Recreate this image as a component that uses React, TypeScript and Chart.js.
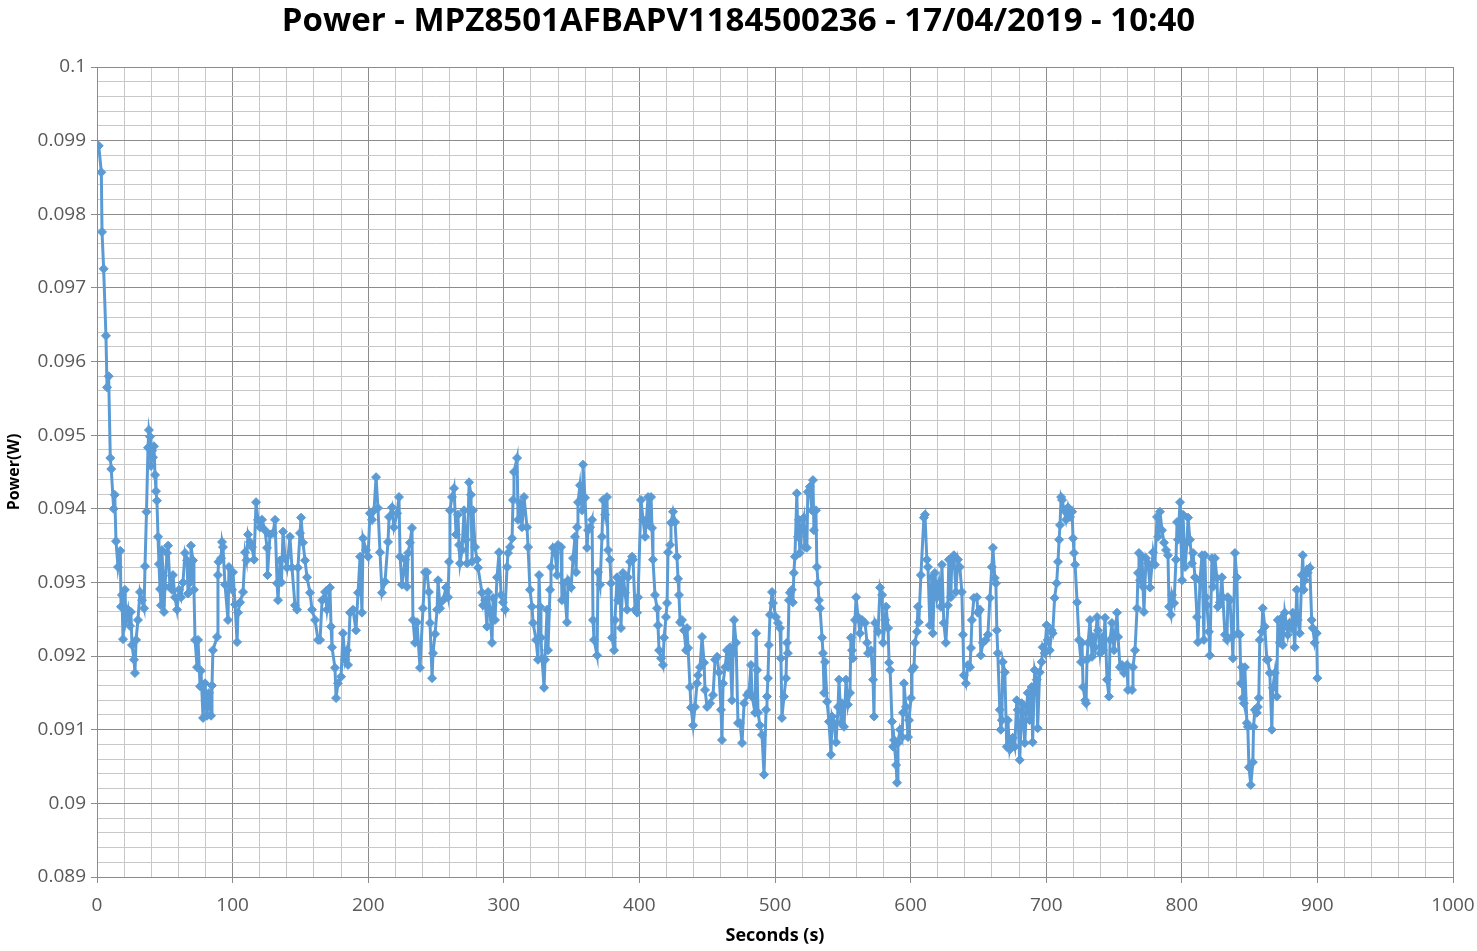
import { useEffect, useRef } from 'react';
import { Chart, registerables } from 'chart.js';

Chart.register(...registerables);

const TITLE = 'Power - MPZ8501AFBAPV1184500236 - 17/04/2019 - 10:40';
const X_AXIS_TITLE = 'Seconds (s)';
const Y_AXIS_TITLE = 'Power(W)';

// Time of each sample, in seconds
const seconds = [
  1.3, 3.2, 3.7, 4.9, 6.6, 7.4, 8.6, 9.8, 10.5, 12.3, 13.1, 14.0, 15.5, 17.2, 17.7, 18.4, 19.2, 20.6, 21.4, 22.9,
  24.3, 25.0, 25.8, 27.3, 28.0, 28.8, 30.2, 31.7, 33.2, 34.7, 35.4, 36.5, 37.6, 38.3, 39.1, 39.8, 40.6, 41.3, 42.0, 42.8,
  43.5, 44.2, 45.0, 45.7, 46.5, 47.2, 47.9, 48.7, 49.4, 50.1, 51.6, 52.4, 53.8, 55.3, 56.0, 57.5, 59.0, 60.5, 62.0, 63.4,
  64.9, 66.4, 67.1, 68.6, 69.3, 70.8, 71.5, 72.3, 73.8, 74.5, 76.0, 76.7, 78.2, 79.7, 81.1, 82.6, 84.1, 84.8, 85.5,
  88.5, 89.2, 89.6, 91.5, 92.2, 92.9, 94.4, 96.6, 97.3, 99.6, 100.3, 101.8, 103.3, 104.0, 105.5, 107.7, 109.2, 110.3, 111.4, 112.8,
  114.3, 115.8, 117.3, 118.7, 120.2, 121.7, 123.9, 125.4, 125.7, 127.6, 129.8, 131.3, 132.8, 133.5, 135.0, 136.0, 137.2, 138.7, 140.1, 142.3,
  143.8, 146.0, 147.5, 148.2, 149.7, 150.5, 151.9, 153.4, 154.9, 157.1, 158.6, 160.8, 163.0,
  164.5, 166.0, 168.2, 169.6, 171.8, 172.6, 173.3, 175.5, 176.3, 177.7, 180.0, 181.4, 182.9, 184.4, 185.1, 186.6, 188.8, 191.0, 192.5, 194.0,
  195.4, 196.2, 198.4, 199.9, 201.3, 202.8, 204.3, 205.8, 207.2, 208.7, 210.2, 212.4, 214.6, 215.4, 217.6, 219.0, 221.3, 222.7, 223.5, 224.9,
  227.2, 228.6, 229.4, 230.8, 232.3, 233.0, 234.5, 236.0, 238.2, 240.4, 241.9,
  243.4, 244.8, 245.6, 247.1, 247.8, 249.3, 250.8, 251.5, 253.0, 255.2, 257.4, 258.9, 259.6, 260.3, 261.8, 263.3, 264.8, 266.2, 267.0, 267.7,
  269.2, 270.7, 272.1, 272.9, 274.4, 275.8, 276.6, 277.3, 278.8, 280.3, 281.0, 283.9, 284.7, 286.2, 287.6, 288.4, 289.8, 291.3, 292.1, 293.5,
  295.0, 296.5, 298.0, 299.4, 300.9, 302.4, 303.1, 304.6, 306.1, 306.8, 307.5, 309.8, 310.5, 312.0, 313.4, 314.9, 317.1, 317.9, 319.3, 320.8,
  321.6, 323.8, 325.2,
  326.0, 326.7, 327.4, 328.2, 329.7, 330.4, 331.9, 332.6, 334.1, 334.8, 336.3, 337.8, 339.3, 340.0, 342.2, 342.9, 344.4, 346.6, 347.4, 349.6,
  351.1, 352.5, 353.3, 354.0, 354.7, 356.2, 357.7, 358.4, 359.9, 361.4, 362.1, 363.6, 365.1, 365.8, 366.5, 368.8, 369.5, 371.0, 372.4, 373.2,
  374.7, 376.1, 376.9, 378.3, 379.1, 379.8, 381.3, 382.0, 383.5, 384.2, 385.7, 386.4, 387.9, 389.4, 390.9, 391.6, 393.1, 394.6, 395.3, 396.8,
  398.3, 399.0, 401.2, 402.7, 404.2, 406.4,
  407.1, 408.6, 409.3, 410.0, 411.5, 413.0, 413.7, 414.5, 416.0, 417.4, 418.2, 419.6, 420.4, 421.1, 422.6, 423.3, 424.8, 426.3, 427.7, 428.5,
  429.2, 430.0, 431.4, 432.9, 434.4, 435.1, 435.9, 437.3, 438.1, 439.6, 441.0, 442.5, 443.2, 444.7, 446.2, 447.7, 448.4, 449.9, 452.1, 454.3,
  455.8, 457.3, 458.7, 460.2, 460.9, 461.7, 463.2, 464.6, 465.4, 466.8, 468.3, 469.1, 469.8, 471.3, 472.7, 474.2, 475.7, 477.2, 479.4, 480.8,
  482.3, 483.1, 485.3,
  486.1, 486.8, 487.5, 488.9, 490.4, 491.9, 493.4, 494.1, 494.8, 495.5, 496.3, 497.8, 498.5, 500.7, 502.2, 503.7, 504.4, 505.1, 506.6, 508.1,
  508.8, 509.5, 510.3, 511.0, 512.5, 513.2, 513.9, 514.7, 516.1, 516.9, 517.6, 518.3, 519.8, 521.3, 522.0, 523.5, 524.2, 525.7, 527.2, 528.0,
  528.7, 530.2, 530.9, 531.7, 532.4, 533.2, 534.7, 535.4, 536.2, 536.9, 538.4, 539.8, 541.3, 542.1, 543.5, 545.0, 546.5, 547.2, 548.7, 549.4,
  550.9, 552.4, 553.8, 555.3, 556.0, 556.8, 557.5, 559.0, 559.8, 561.2, 562.7, 564.2,
  566.4, 567.9, 568.6, 570.8, 572.3, 573.0, 573.8, 576.0, 577.5, 579.0, 579.7, 581.2, 581.9, 583.4, 584.1, 584.9, 586.3, 587.1, 587.8, 589.3,
  590.0, 590.7, 592.2, 593.7, 594.4, 595.1, 596.6, 598.1, 598.8, 600.3, 601.0, 602.5, 603.2, 604.7, 605.4, 606.1, 607.6, 609.8, 610.6, 612.0,
  612.8, 614.2, 615.7, 616.4, 617.9, 619.4, 620.9, 622.3, 623.1, 624.5, 626.0, 627.5, 628.2, 629.7, 630.4, 631.9, 633.4, 634.9, 636.3, 637.8,
  638.6, 639.3, 640.8, 642.3, 643.8, 644.5, 645.2, 646.7, 648.9, 649.6,
  651.1, 651.8, 653.3, 655.5, 657.0, 658.5, 659.9, 660.7, 662.1, 662.9, 663.6, 664.3, 665.8, 666.5, 667.3, 668.0, 669.5, 670.9, 671.7, 673.1,
  674.6, 675.3, 676.8, 678.3, 679.0, 680.5, 682.0, 682.7, 684.2, 685.6, 686.4, 687.8, 689.3, 690.0, 691.5, 693.0, 693.7, 695.2, 696.7, 697.4,
  698.9, 700.3, 701.1, 702.6, 704.0, 704.8, 706.2, 707.7, 708.7, 709.5, 710.2, 711.0, 711.7, 713.2, 714.6, 716.1, 717.6, 719.1, 719.8, 720.5,
  721.3, 722.8, 724.2, 725.7, 726.4, 727.2, 728.7, 729.4, 730.1, 730.9,
  732.3, 733.8, 734.5, 736.0, 737.5, 738.2, 739.7, 741.2, 741.9, 743.4, 744.8, 746.3, 747.1, 748.5, 750.0, 752.2, 753.0, 754.4, 755.9, 757.4,
  759.6, 760.3, 763.3, 764.0, 765.5, 767.0, 767.7, 768.4, 769.2, 770.7, 771.4, 772.1, 773.6, 775.1, 776.6, 778.0, 778.8, 780.2, 781.7, 782.5,
  783.9, 785.4, 786.9, 788.4, 789.8, 790.6, 792.0, 792.8, 794.3, 795.7, 796.5, 797.2, 798.7, 800.2, 800.9, 802.4, 803.8, 804.6, 806.0, 807.5,
  808.3, 809.7, 811.2, 811.9, 813.4, 814.9,
  816.3, 817.0, 817.8, 818.5, 820.0, 820.7, 822.2, 823.0, 824.4, 825.9, 826.6, 828.1, 829.6, 830.3, 831.8, 833.3, 834.0, 835.5, 837.0, 837.7,
  839.2, 840.6, 841.4, 842.8, 843.6, 844.3, 845.0, 845.8, 846.5, 848.0, 848.7, 849.5, 850.9, 852.4, 852.9, 853.9, 855.3, 856.1, 856.8, 857.5,
  859.0, 859.7, 861.2, 862.7, 863.4, 864.9, 866.4, 867.1, 868.6, 870.0, 870.8, 872.3, 873.7, 874.5, 875.9, 877.4, 878.2, 879.6, 881.1, 881.8,
  883.3, 884.8, 885.5, 887.0, 888.5, 889.2, 889.9, 890.7, 892.2, 892.9, 894.4, 895.8, 896.6, 898.0, 899.5, 900.0,
];

// Measured power of each sample, in milliwatts (converted to W for the chart)
const powerMw = [
  98.93, 98.57, 97.76, 97.26, 96.35, 95.65, 95.80, 94.69, 94.54, 94.00, 94.19, 93.56, 93.21, 93.43, 92.67, 92.83, 92.23, 92.90, 92.49, 92.63,
  92.41, 92.60, 92.15, 91.95, 91.77, 92.22, 92.49, 92.87, 92.76, 92.65, 93.22, 93.96, 94.83, 95.07, 94.98, 94.58, 94.79, 94.70, 94.85, 94.46,
  94.24, 94.11, 93.62, 93.25, 92.91, 92.69, 93.44, 93.09, 92.60, 92.94, 93.40, 93.50, 92.94, 92.90, 93.10, 92.80, 92.63, 92.90, 92.80, 93.00,
  93.40, 93.30, 92.85, 93.00, 93.50, 93.30, 92.90, 92.22, 91.85, 92.22, 91.59, 91.80, 91.16, 91.63, 91.19, 91.50, 91.19, 91.60, 92.08,
  92.26, 93.10, 93.28, 93.33, 93.55, 93.48, 92.97, 92.49, 93.21, 92.90, 93.14, 92.70, 92.19, 92.59, 92.73, 92.87, 93.41, 93.30, 93.65, 93.55,
  93.48, 93.31, 94.09, 93.85, 93.75, 93.85, 93.71, 93.47, 93.10, 93.65, 93.67, 93.85, 92.99, 92.76, 93.30, 93.00, 93.69, 93.33, 93.20, 93.62,
  93.20, 92.69, 92.63, 93.20, 93.67, 93.88, 93.54, 93.30, 93.07, 92.86, 92.63, 92.49, 92.22,
  92.22, 92.76, 92.87, 92.63, 92.93, 92.40, 92.12, 91.84, 91.43, 91.63, 91.72, 92.31, 91.95, 92.08, 91.88, 92.59, 92.63, 92.35, 92.86, 93.35,
  92.59, 93.60, 93.44, 93.35, 93.94, 93.85, 93.98, 94.43, 94.01, 93.41, 92.86, 93.01, 93.55, 93.89, 94.02, 93.75, 93.94, 94.16, 93.35, 92.97,
  93.31, 92.94, 93.40, 93.54, 93.74, 92.49, 92.18, 92.46, 91.84, 92.65, 93.14,
  93.14, 92.87, 92.45, 91.70, 92.04, 92.30, 92.63, 93.03, 92.65, 92.76, 92.93, 92.80, 93.28, 93.98, 94.16, 94.28, 93.65, 93.92, 93.51, 93.26,
  93.44, 93.98, 93.58, 93.26, 94.36, 94.19, 93.28, 93.98, 93.48, 93.31, 93.20, 92.86, 92.69, 92.76, 92.40, 92.87, 92.63, 92.18, 92.79, 92.49,
  93.07, 93.41, 92.83, 92.73, 92.63, 93.21, 93.40, 93.48, 93.60, 94.12, 94.50, 94.69, 93.85, 94.08, 93.75, 94.16, 93.75, 93.48, 92.90, 92.67,
  92.45, 92.22, 91.95,
  93.10, 92.67, 92.25, 91.97, 91.57, 91.95, 92.63, 92.08, 92.90, 93.21, 93.47, 93.40, 93.10, 93.51, 93.48, 92.76, 92.99, 92.46, 93.03, 92.93,
  93.33, 93.62, 93.14, 93.75, 94.09, 94.32, 93.98, 94.60, 94.15, 93.47, 93.71, 93.75, 93.85, 92.49, 92.22, 92.01, 93.14, 92.97, 93.62, 94.12,
  93.92, 94.16, 93.44, 93.31, 92.99, 92.25, 92.08, 92.49, 93.07, 92.76, 93.03, 92.38, 93.13, 92.86, 92.63, 93.07, 93.28, 93.35, 93.31, 92.63,
  92.59, 92.80, 94.12, 93.85, 93.62, 94.16,
  93.78, 94.16, 93.74, 93.31, 92.83, 92.65, 92.42, 92.08, 91.97, 91.88, 92.25, 92.53, 92.72, 93.41, 93.51, 93.81, 93.96, 93.82, 93.35, 93.05,
  92.83, 92.46, 92.49, 92.35, 92.08, 92.38, 92.11, 91.58, 91.30, 91.06, 91.31, 91.63, 91.74, 91.85, 92.26, 91.91, 91.54, 91.31, 91.36, 91.47,
  91.95, 91.99, 91.78, 91.27, 90.86, 91.63, 91.85, 92.08, 91.85, 92.12, 91.40, 92.04, 92.49, 92.18, 91.09, 91.09, 90.82, 91.36, 91.47, 91.51,
  91.88, 91.45, 91.23,
  92.31, 91.81, 91.23, 91.06, 90.93, 90.39, 91.27, 91.45, 91.70, 92.15, 92.56, 92.87, 92.72, 92.53, 92.45, 92.38, 91.97, 91.16, 91.45, 91.70,
  92.18, 92.04, 92.76, 92.86, 92.90, 92.73, 93.13, 93.35, 94.21, 93.62, 93.85, 93.40, 93.75, 93.88, 93.48, 93.47, 94.23, 94.30, 93.98, 94.39,
  93.71, 93.98, 93.21, 92.99, 92.76, 92.65, 92.25, 92.04, 91.50, 91.92, 91.38, 91.11, 90.66, 91.18, 91.09, 90.83, 91.31, 91.68, 91.09, 91.36,
  91.04, 91.68, 91.34, 91.50, 92.25, 92.08, 91.97, 92.49, 92.80, 92.53, 92.31, 92.49,
  92.45, 92.18, 92.04, 92.08, 91.68, 91.18, 92.45, 92.33, 92.93, 92.83, 92.18, 92.49, 92.67, 92.38, 91.91, 91.81, 91.11, 90.77, 90.86, 90.52,
  90.28, 90.82, 91.00, 90.90, 91.23, 91.63, 91.31, 90.90, 91.13, 91.43, 91.81, 91.85, 92.18, 92.33, 92.67, 92.46, 93.10, 93.88, 93.92, 93.31,
  93.21, 92.42, 93.07, 92.31, 93.13, 92.80, 92.99, 92.67, 93.24, 92.45, 92.18, 92.69, 93.31, 92.80, 93.33, 93.37, 92.87, 93.31, 93.21, 92.87,
  92.29, 91.74, 91.63, 91.88, 91.85, 92.11, 92.49, 92.79, 92.80, 92.59,
  92.63, 92.01, 92.18, 92.22, 92.29, 92.79, 93.21, 93.47, 93.06, 92.99, 92.35, 92.04, 91.27, 91.00, 91.13, 91.92, 91.78, 90.77, 91.13, 90.73,
  90.86, 90.89, 90.77, 91.40, 91.27, 90.59, 91.36, 91.23, 90.82, 91.31, 91.50, 91.13, 91.58, 90.83, 91.81, 91.68, 91.02, 91.78, 91.92, 92.12,
  92.04, 92.42, 92.22, 92.08, 92.35, 92.31, 92.79, 92.99, 93.28, 93.58, 93.78, 94.16, 94.12, 93.98, 93.85, 94.02, 93.89, 93.96, 93.60, 93.40,
  93.24, 92.73, 92.22, 91.92, 92.18, 91.58, 91.40, 91.36, 91.95, 92.18,
  92.49, 91.99, 92.26, 92.12, 92.53, 92.35, 92.04, 92.26, 92.08, 92.52, 91.68, 91.45, 92.22, 92.45, 92.08, 92.59, 92.26, 91.85, 91.88, 91.77,
  91.88, 91.54, 91.54, 91.85, 92.08, 92.65, 93.13, 93.40, 93.03, 93.35, 92.94, 92.60, 93.33, 93.26, 92.93, 93.24, 93.41, 93.24, 93.89, 93.62,
  93.96, 93.71, 93.54, 93.44, 93.37, 92.67, 92.56, 92.83, 92.72, 93.31, 93.82, 93.58, 94.09, 93.03, 93.92, 93.21, 93.54, 93.88, 93.58, 93.26,
  93.40, 93.07, 92.53, 92.19, 93.03, 93.37,
  92.22, 93.37, 92.80, 92.69, 92.33, 92.01, 93.33, 92.94, 93.33, 93.06, 92.67, 92.73, 93.07, 92.80, 92.29, 92.22, 92.80, 92.76, 92.26, 91.97,
  93.40, 93.07, 92.31, 92.29, 91.63, 91.85, 91.43, 91.36, 91.85, 91.09, 91.04, 90.49, 90.25, 90.56, 91.04, 91.27, 91.23, 91.31, 91.43, 92.22,
  92.33, 92.65, 92.40, 91.95, 91.95, 91.77, 91.00, 91.57, 91.77, 91.45, 92.49, 92.18, 92.52, 92.15, 92.59, 92.40, 92.29, 92.45, 92.38, 92.59,
  92.12, 92.90, 92.49, 92.31, 93.10, 93.37, 92.90, 93.03, 93.17, 93.13, 93.20, 92.49, 92.38, 92.18, 92.31, 91.70,
];

const X_MIN = 0;
const X_MAX = 1000;
const X_MINOR_STEP = 20;
const X_MAJOR_STEP = 100;
const Y_MIN = 0.089;
const Y_MAX = 0.1;
const Y_MINOR_STEP = 0.0002;

const LINE_COLOR = '#5B9BD5';
const MAJOR_GRID = '#8c8c8c';
const MINOR_GRID = '#c8c8c8';
const TICK_TEXT = '#595959';
const FONT = "'Open Sans', 'Liberation Sans', sans-serif";

const isMajorX = (v: number) => Math.abs(v % X_MAJOR_STEP) < 1e-6;
const isMajorY = (v: number) => Math.abs(v * 1000 - Math.round(v * 1000)) < 1e-6;

export default function App() {
  const canvasRef = useRef<HTMLCanvasElement | null>(null);

  useEffect(() => {
    const canvas = canvasRef.current;
    if (!canvas) return;
    const points = seconds.map((s, i) => ({ x: s, y: powerMw[i] / 1000 }));
    const chart = new Chart(canvas, {
      type: 'line',
      data: {
        datasets: [
          {
            label: 'Power',
            data: points,
            borderColor: LINE_COLOR,
            backgroundColor: LINE_COLOR,
            borderWidth: 3,
            pointStyle: 'rectRot',
            pointRadius: 4.5,
            pointHoverRadius: 4.5,
            pointBorderWidth: 1,
            pointBackgroundColor: LINE_COLOR,
            pointBorderColor: LINE_COLOR,
            tension: 0,
            fill: false,
          },
        ],
      },
      options: {
        responsive: false,
        animation: false,
        events: [],
        layout: { padding: { left: 0, right: 0, top: 0, bottom: 0 } },
        plugins: {
          legend: { display: false },
          tooltip: { enabled: false },
          title: {
            display: true,
            text: TITLE,
            color: '#000000',
            font: { family: FONT, size: 33, weight: 'bold', lineHeight: 1.2 },
            padding: { top: 2, bottom: 25.4 },
          },
        },
        scales: {
          x: {
            type: 'linear',
            min: X_MIN,
            max: X_MAX,
            afterFit: (scale: any) => {
              scale.height = 74;
              scale.paddingRight = 24;
            },
            ticks: {
              stepSize: X_MINOR_STEP,
              autoSkip: false,
              maxRotation: 0,
              padding: 11,
              color: TICK_TEXT,
              font: { family: FONT, size: 19 },
              callback: (v: any) => (isMajorX(Number(v)) ? String(v) : ''),
            },
            grid: {
              color: (ctx: any) => (isMajorX(ctx.tick?.value ?? 0) ? MAJOR_GRID : MINOR_GRID),
              lineWidth: 1,
              drawTicks: true,
              tickLength: 6,
              tickColor: (ctx: any) => (isMajorX(ctx.tick?.value ?? 0) ? MAJOR_GRID : 'rgba(0,0,0,0)'),
            },
            border: { display: true, color: MAJOR_GRID, width: 1 },
            title: {
              display: true,
              text: X_AXIS_TITLE,
              color: '#000000',
              font: { family: FONT, size: 18, weight: 'bold', lineHeight: 1.2 },
              padding: { top: 0, bottom: 4 },
            },
          },
          y: {
            type: 'linear',
            min: Y_MIN,
            max: Y_MAX,
            afterFit: (scale: any) => {
              scale.width = 97;
            },
            ticks: {
              stepSize: Y_MINOR_STEP,
              autoSkip: false,
              padding: 5,
              color: TICK_TEXT,
              font: { family: FONT, size: 19 },
              callback: (v: any) => {
                const n = Number(v);
                return isMajorY(n) ? String(Math.round(n * 1000) / 1000) : '';
              },
            },
            grid: {
              color: (ctx: any) => (isMajorY(ctx.tick?.value ?? 0) ? MAJOR_GRID : MINOR_GRID),
              lineWidth: 1,
              drawTicks: true,
              tickLength: 6,
              tickColor: (ctx: any) => (isMajorY(ctx.tick?.value ?? 0) ? MAJOR_GRID : 'rgba(0,0,0,0)'),
            },
            border: { display: true, color: MAJOR_GRID, width: 1 },
            title: {
              display: true,
              text: Y_AXIS_TITLE,
              color: '#000000',
              font: { family: FONT, size: 16, weight: 'bold', lineHeight: 1.2 },
              padding: { top: 5, bottom: 0 },
            },
          },
        },
      },
    });
    return () => chart.destroy();
  }, []);

  return (
    <div style={{ position: 'absolute', left: 0, top: 0, width: 1477, height: 951, background: '#ffffff' }}>
      <canvas ref={canvasRef} width={1477} height={951} style={{ display: 'block' }} />
    </div>
  );
}
